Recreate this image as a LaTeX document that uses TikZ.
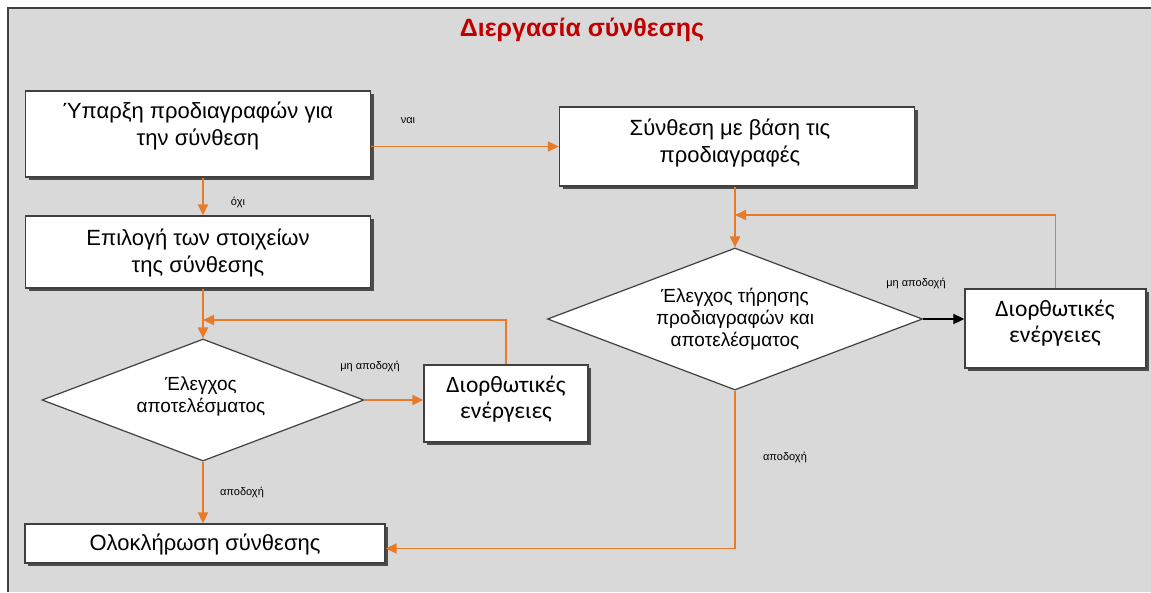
\documentclass[tikz,border=0pt]{standalone}
\usepackage{fontspec}
\setmainfont{Liberation Sans}
\newfontfamily\calfont{Carlito}
\usetikzlibrary{arrows.meta,shapes.geometric,shadows}

\definecolor{flow}{RGB}{232,122,40}
\definecolor{heading}{RGB}{192,0,0}
\definecolor{panel}{RGB}{217,217,217}
\definecolor{rim}{RGB}{64,64,64}

\tikzset{
  box/.style={draw=rim, line width=1.4pt, fill=white, inner sep=0pt,
    general shadow={fill=black!70, shadow xshift=3pt, shadow yshift=-3pt}},
  decision/.style={diamond, draw=rim, line width=1.2pt, fill=white, inner sep=0pt},
  txt/.style={align=center, inner sep=0pt},
  bigtxt/.style={txt, font=\fontsize{22}{27.5}\selectfont},
  midtxt/.style={txt, font=\fontsize{19}{22}\selectfont},
  caltxt/.style={txt, font=\calfont\fontsize{23.5}{26.5}\selectfont},
  tag/.style={inner sep=0pt, font=\fontsize{11}{12}\selectfont},
  arr/.style={draw=flow, line width=1.9pt, -{Triangle[length=11pt,width=10pt]}},
  blackarr/.style={draw=black, line width=1.9pt, -{Triangle[length=11pt,width=10pt]}}
}

\begin{document}
\begin{tikzpicture}[x=1pt,y=-1pt]
\useasboundingbox (0,0) rectangle (1151,592);
\fill[white] (0,0) rectangle (1151,592);
\fill[panel] (8,8) rectangle (1151,592);
\draw[rim, line width=2pt] (8,592) -- (8,8) -- (1151,8);

% heading
\node[font=\bfseries\fontsize{25}{30}\selectfont, text=heading] (title) at (582,30) {Διεργασία σύνθεσης};

% boxes and decisions
\node[box, minimum width=345pt, minimum height=86pt] (b1) at (198,134) {};
\node[box, minimum width=345pt, minimum height=72pt] (b2) at (198,252) {};
\node[box, minimum width=355pt, minimum height=79pt] (b3) at (737,146.5) {};
\node[box, minimum width=181pt, minimum height=79pt] (b4) at (1055.5,328.5) {};
\node[box, minimum width=164pt, minimum height=77pt] (b5) at (506,403.5) {};
\node[box, minimum width=360pt, minimum height=39pt] (b6) at (205,543.5) {};
\node[decision, minimum width=322pt, minimum height=122pt] (d1) at (203,400) {};
\node[decision, minimum width=375pt, minimum height=142pt] (d2) at (735,319) {};

% texts
\node[bigtxt] (t1) at (198,126) {Ύπαρξη προδιαγραφών για\\την σύνθεση};
\node[bigtxt] (t2) at (198,253) {Επιλογή των στοιχείων\\της σύνθεσης};
\node[bigtxt] (t3) at (730,143) {Σύνθεση με βάση τις\\προδιαγραφές};
\node[caltxt] (t4) at (1055,323) {Διορθωτικές\\ενέργειες};
\node[caltxt] (t5) at (506,399) {Διορθωτικές\\ενέργειες};
\node[bigtxt] (t6) at (205,544) {Ολοκλήρωση σύνθεσης};
\node[midtxt] (t7) at (201,396) {Έλεγχος\\αποτελέσματος};
\node[midtxt] (t8) at (735,319) {Έλεγχος τήρησης\\προδιαγραφών και\\αποτελέσματος};

% connectors
\coordinate (fb1) at (203,320);
\coordinate (fb2) at (735,215);
\draw[arr] (b1.south -| d1.north) -- (b2.north -| d1.north);
\draw[arr] (b1.east |- b3.west) -- (b3.west);
\draw[arr] (b3.south -| d2.north) -- (d2.north);
\draw[arr] (b2.south -| d1.north) -- (d1.north);
\draw[arr] (d1.east) -- (d1.east -| b5.west);
\draw[arr] (b5.north) |- (fb1);
\draw[arr] (d1.south) -- (d1.south |- b6.north);
\draw[blackarr] (d2.east) -- (d2.east -| b4.west);
\draw[arr] (b4.north) |- (fb2);
\draw[arr] (d2.south) |- ([yshift=-5pt]b6.east);

% branch tags
\node[tag] (l1) at (238,202) {όχι};
\node[tag] (l2) at (408,121) {ναι};
\node[tag] (l3) at (370,366) {μη αποδοχή};
\node[tag] (l4) at (242,492) {αποδοχή};
\node[tag] (l5) at (916,283) {μη αποδοχή};
\node[tag] (l6) at (785,457) {αποδοχή};
\end{tikzpicture}
\end{document}
